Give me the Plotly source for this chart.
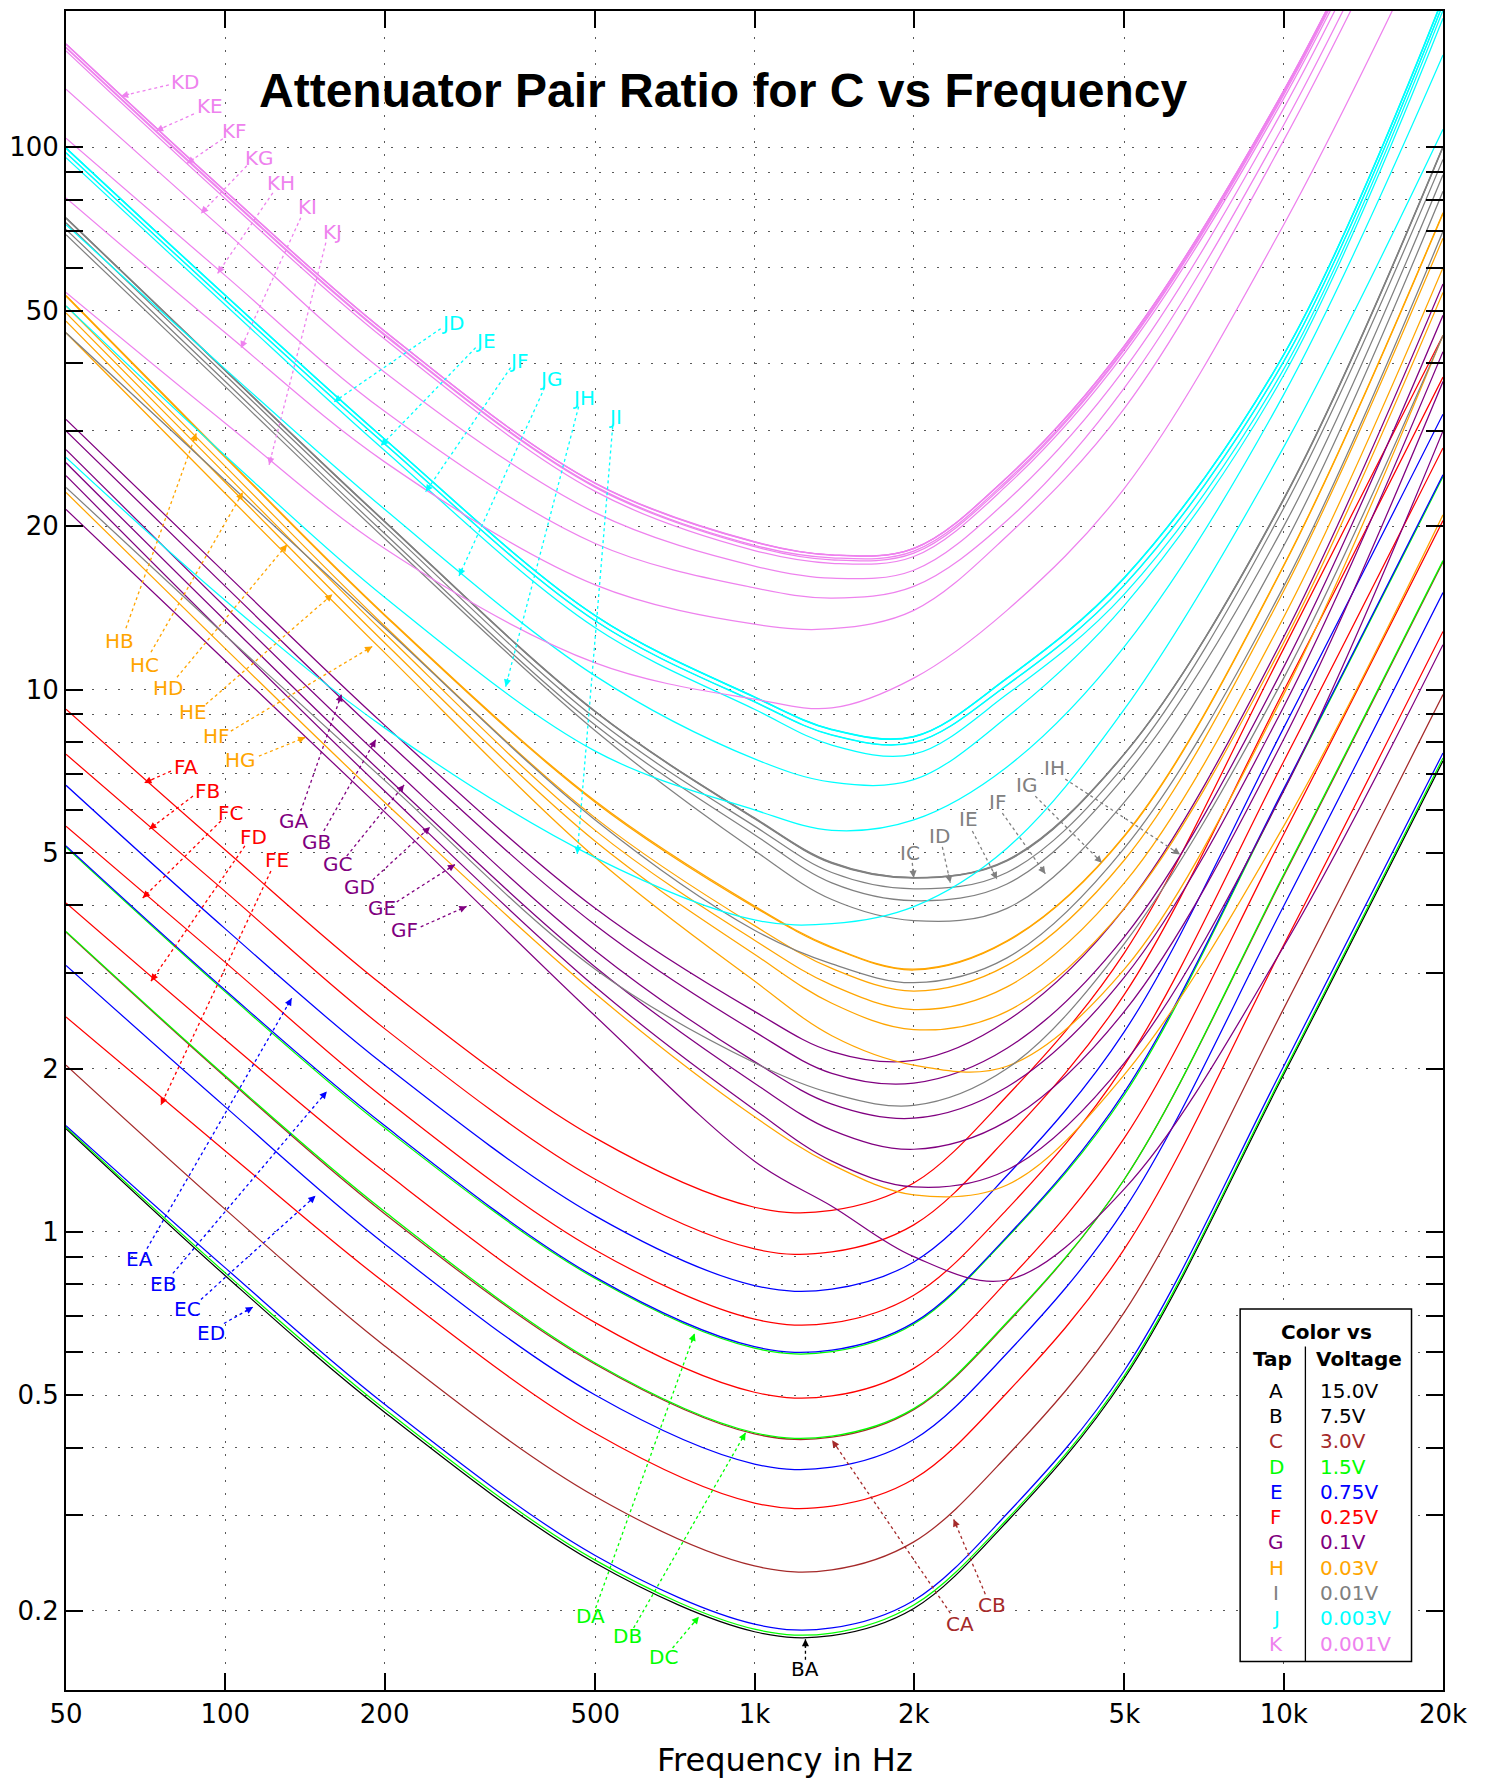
import math
import plotly.graph_objects as go

# Frequencies at which every pair ratio is tabulated (Hz)
freq_hz = [50, 100, 200, 500, 1000, 1400, 2000, 3000, 5000, 10000, 20000]

# Attenuator taps
tap_names = ["A", "B", "C", "D", "E", "F", "G", "H", "I", "J", "K"]
tap_volts = ["15.0V", "7.5V", "3.0V", "1.5V", "0.75V", "0.25V", "0.1V",
             "0.03V", "0.01V", "0.003V", "0.001V"]
tap_colors = ["#000000", "#000000", "#a52a2a", "#00ff00", "#0000ff", "#ff0000",
              "#800080", "#ffa500", "#808080", "#00ffff", "#ee82ee"]

# Ratio for C, one list per tap pair (values at freq_hz)
ratio_BA = [1.55, 0.83, 0.465, 0.245, 0.183, 0.18, 0.202, 0.292, 0.537, 1.95, 7.39]
ratio_CA = [3.57, 1.93, 1.08, 0.57, 0.424, 0.418, 0.47, 0.678, 1.25, 4.53, 17.2]
ratio_CB = [2.03, 1.10, 0.616, 0.325, 0.242, 0.238, 0.268, 0.386, 0.711, 2.58, 9.79]
ratio_DA = [5.12, 2.77, 1.555, 0.82, 0.61, 0.601, 0.676, 0.975, 1.79, 6.52, 24.7]
ratio_DB = [3.58, 1.94, 1.09, 0.573, 0.426, 0.42, 0.472, 0.681, 1.25, 4.56, 17.3]
ratio_DC = [1.56, 0.84, 0.471, 0.248, 0.185, 0.182, 0.205, 0.295, 0.543, 1.97, 7.48]
ratio_EA = [6.66, 3.62, 2.03, 1.07, 0.796, 0.784, 0.88, 1.27, 2.34, 8.5, 32.2]
ratio_EB = [5.15, 2.79, 1.57, 0.825, 0.614, 0.605, 0.68, 0.98, 1.81, 6.56, 24.9]
ratio_EC = [3.10, 1.70, 0.95, 0.50, 0.373, 0.368, 0.414, 0.597, 1.10, 3.99, 15.1]
ratio_ED = [1.57, 0.858, 0.481, 0.253, 0.189, 0.186, 0.209, 0.302, 0.555, 2.02, 7.64]
ratio_FA = [9.2, 5.06, 2.83, 1.49, 1.11, 1.095, 1.23, 1.78, 3.27, 11.9, 45.0]
ratio_FB = [7.6, 4.24, 2.37, 1.25, 0.93, 0.918, 1.03, 1.49, 2.74, 9.95, 37.7]
ratio_FC = [5.6, 3.14, 1.76, 0.926, 0.69, 0.679, 0.764, 1.10, 2.03, 7.37, 27.9]
ratio_FD = [4.04, 2.26, 1.29, 0.68, 0.506, 0.498, 0.56, 0.81, 1.49, 5.41, 20.5]
ratio_FE = [2.49, 1.41, 0.806, 0.425, 0.316, 0.312, 0.35, 0.505, 0.93, 3.38, 12.8]
ratio_GA = [31.5, 16.4, 8.6, 3.95, 2.55, 2.15, 2.07, 2.45, 3.95, 12.5, 56]
ratio_GB = [30.0, 15.5, 8.1, 3.68, 2.34, 1.96, 1.88, 2.18, 3.5, 11.0, 49]
ratio_GC = [27.7, 14.2, 7.4, 3.3, 2.06, 1.72, 1.62, 1.85, 2.95, 9.3, 42]
ratio_GD = [26.2, 13.4, 6.95, 3.08, 1.88, 1.54, 1.42, 1.6, 2.55, 8.1, 37]
ratio_GE = [24.8, 12.6, 6.5, 2.83, 1.68, 1.35, 1.21, 1.3, 2.05, 6.5, 30]
ratio_GF = [21.5, 11.3, 5.95, 2.5, 1.35, 1.115, 0.9, 0.815, 1.2, 3.36, 12.1]
ratio_HA = [53.3, 26.9, 13.75, 6.23, 3.99, 3.35, 3.05, 3.44, 5.38, 16.95, 75.8]
ratio_HB = [53.2, 26.8, 13.7, 6.2, 3.97, 3.34, 3.04, 3.43, 5.36, 16.9, 75.5]
ratio_HC = [51.0, 25.8, 13.1, 5.8, 3.67, 3.06, 2.78, 3.1, 4.85, 15.2, 68]
ratio_HD = [49.5, 25.0, 12.7, 5.5, 3.45, 2.85, 2.57, 2.83, 4.4, 13.6, 60]
ratio_HE = [47.8, 24.1, 12.2, 5.25, 3.25, 2.64, 2.36, 2.55, 3.95, 12.2, 54]
ratio_HF = [45.5, 23.0, 11.7, 4.9, 2.9, 2.3, 2.03, 2.02, 3.05, 9.8, 45]
ratio_HG = [23.1, 11.9, 6.2, 2.75, 1.63, 1.33, 1.17, 1.22, 1.95, 5.6, 21]
ratio_IA = [74.2, 38.8, 20.45, 9.12, 5.8, 4.8, 4.5, 4.85, 7.62, 22.5, 100.5]
ratio_IB = [74.1, 38.75, 20.42, 9.11, 5.79, 4.79, 4.5, 4.84, 7.61, 22.45, 100.2]
ratio_IC = [74.0, 38.7, 20.4, 9.1, 5.78, 4.78, 4.49, 4.83, 7.6, 22.4, 100]
ratio_ID = [72.6, 38.0, 20.0, 8.85, 5.6, 4.6, 4.29, 4.6, 7.25, 21.6, 95]
ratio_IE = [70.6, 37.0, 19.4, 8.6, 5.4, 4.4, 4.08, 4.38, 6.9, 20.0, 89]
ratio_IF = [69.0, 36.2, 19.0, 8.4, 5.05, 4.1, 3.75, 3.95, 6.2, 18.4, 83]
ratio_IG = [45.5, 24.3, 13.0, 5.75, 3.6, 3.12, 2.88, 3.2, 5.1, 15.5, 70]
ratio_IH = [23.6, 12.6, 6.8, 3.05, 2.05, 1.8, 1.71, 2.0, 3.4, 10.5, 45]
ratio_JA = [99.8, 53.4, 29.0, 13.7, 9.7, 8.45, 8.2, 10.5, 16.1, 41.5, 189]
ratio_JB = [99.7, 53.35, 28.97, 13.69, 9.69, 8.44, 8.19, 10.49, 16.08, 41.45, 188.5]
ratio_JC = [99.6, 53.3, 28.95, 13.68, 9.68, 8.43, 8.18, 10.48, 16.06, 41.4, 188]
ratio_JD = [97.8, 52.3, 28.4, 13.4, 9.5, 8.25, 7.99, 10.2, 15.6, 40.3, 184]
ratio_JE = [97.7, 52.25, 28.37, 13.39, 9.49, 8.24, 7.98, 10.19, 15.58, 40.25, 183.5]
ratio_JF = [95.7, 51.2, 27.6, 13.0, 9.2, 7.9, 7.6, 9.8, 15.0, 39.0, 179]
ratio_JG = [72.0, 39.0, 21.5, 10.6, 7.45, 6.75, 6.82, 8.9, 14.3, 38.0, 173]
ratio_JH = [51.0, 27.0, 14.8, 7.7, 6.0, 5.5, 5.75, 7.2, 12.0, 35.0, 148]
ratio_JI = [26.8, 14.6, 8.5, 4.9, 3.76, 3.7, 3.98, 5.1, 9.2, 28.0, 108]
ratio_KA = [155.2, 83.1, 45.85, 24.05, 18.75, 17.72, 18.22, 24.62, 43.1, 127.3, 496]
ratio_KB = [155.1, 83.05, 45.82, 24.02, 18.72, 17.71, 18.21, 24.61, 43.05, 127.2, 495]
ratio_KC = [155.0, 83.0, 45.8, 24.0, 18.7, 17.7, 18.2, 24.6, 43.0, 127, 494]
ratio_KD = [153.0, 82.0, 45.2, 23.7, 18.45, 17.5, 18.0, 24.3, 42.6, 126, 490]
ratio_KE = [152.6, 81.6, 45.0, 23.6, 18.35, 17.35, 17.85, 24.1, 42.3, 125, 486]
ratio_KF = [150.6, 80.4, 44.3, 23.2, 18.05, 17.1, 17.6, 23.8, 41.7, 123, 478]
ratio_KG = [128, 70.0, 38.5, 21.2, 16.9, 16.05, 16.6, 22.3, 39.0, 118, 462]
ratio_KH = [104, 58.0, 32.6, 18.6, 15.4, 14.75, 15.5, 20.5, 36.0, 110, 430]
ratio_KI = [80.7, 45.5, 26.3, 15.6, 13.2, 12.95, 14.0, 19.2, 33.0, 103, 400]
ratio_KJ = [54.0, 31.0, 18.2, 11.2, 9.6, 9.25, 10.5, 14.0, 23.5, 72.0, 280]

pairs = [
    ("BA", ratio_BA),
    ("CA", ratio_CA), ("CB", ratio_CB),
    ("DA", ratio_DA), ("DB", ratio_DB), ("DC", ratio_DC),
    ("EA", ratio_EA), ("EB", ratio_EB), ("EC", ratio_EC), ("ED", ratio_ED),
    ("FA", ratio_FA), ("FB", ratio_FB), ("FC", ratio_FC), ("FD", ratio_FD), ("FE", ratio_FE),
    ("GA", ratio_GA), ("GB", ratio_GB), ("GC", ratio_GC), ("GD", ratio_GD), ("GE", ratio_GE),
    ("GF", ratio_GF),
    ("HA", ratio_HA), ("HB", ratio_HB), ("HC", ratio_HC), ("HD", ratio_HD), ("HE", ratio_HE),
    ("HF", ratio_HF), ("HG", ratio_HG),
    ("IA", ratio_IA), ("IB", ratio_IB), ("IC", ratio_IC), ("ID", ratio_ID), ("IE", ratio_IE),
    ("IF", ratio_IF), ("IG", ratio_IG), ("IH", ratio_IH),
    ("JA", ratio_JA), ("JB", ratio_JB), ("JC", ratio_JC), ("JD", ratio_JD), ("JE", ratio_JE),
    ("JF", ratio_JF), ("JG", ratio_JG), ("JH", ratio_JH), ("JI", ratio_JI),
    ("KA", ratio_KA), ("KB", ratio_KB), ("KC", ratio_KC), ("KD", ratio_KD), ("KE", ratio_KE),
    ("KF", ratio_KF), ("KG", ratio_KG), ("KH", ratio_KH), ("KI", ratio_KI), ("KJ", ratio_KJ),
]

# Curve callouts in plot-area fractions: label centre, start of dotted leader, arrow tip
callouts = [
    ("KD", 0.0871, 0.9578, 0.0747, 0.9560, 0.0399, 0.9493),
    ("KE", 0.1047, 0.9435, 0.0929, 0.9387, 0.0653, 0.9286),
    ("KF", 0.1226, 0.9284, 0.1139, 0.9239, 0.0878, 0.9092),
    ("KG", 0.1403, 0.9125, 0.1313, 0.9078, 0.0980, 0.8794),
    ("KH", 0.1560, 0.8973, 0.1502, 0.8917, 0.1101, 0.8437),
    ("KI", 0.1754, 0.8830, 0.1705, 0.8769, 0.1270, 0.7991),
    ("KJ", 0.1935, 0.8682, 0.1887, 0.8620, 0.1475, 0.7297),
    ("JD", 0.2808, 0.8141, 0.2721, 0.8108, 0.1947, 0.7672),
    ("JE", 0.3048, 0.8033, 0.2975, 0.7995, 0.2286, 0.7410),
    ("JF", 0.3287, 0.7918, 0.3229, 0.7876, 0.2612, 0.7136),
    ("JG", 0.3519, 0.7810, 0.3476, 0.7757, 0.2854, 0.6635),
    ("JH", 0.3758, 0.7695, 0.3723, 0.7644, 0.3193, 0.5976),
    ("JI", 0.3988, 0.7580, 0.3970, 0.7525, 0.3713, 0.4980),
    ("IC", 0.6132, 0.4987, 0.6146, 0.4926, 0.6156, 0.4838),
    ("ID", 0.6345, 0.5086, 0.6364, 0.5021, 0.6422, 0.4808),
    ("IE", 0.6555, 0.5186, 0.6582, 0.5116, 0.6761, 0.4829),
    ("IF", 0.6766, 0.5290, 0.6800, 0.5223, 0.7112, 0.4862),
    ("IG", 0.6972, 0.5390, 0.7039, 0.5324, 0.7523, 0.4927),
    ("IH", 0.7177, 0.5489, 0.7257, 0.5425, 0.8091, 0.4976),
    ("HB", 0.0386, 0.6249, 0.0435, 0.6324, 0.0946, 0.7485),
    ("HC", 0.0567, 0.6106, 0.0617, 0.6181, 0.1284, 0.7134),
    ("HD", 0.0740, 0.5965, 0.0806, 0.6032, 0.1606, 0.6823),
    ("HE", 0.0922, 0.5823, 0.1016, 0.5871, 0.1935, 0.6526),
    ("HF", 0.1095, 0.5681, 0.1197, 0.5711, 0.2224, 0.6215),
    ("HG", 0.1268, 0.5539, 0.1401, 0.5562, 0.1738, 0.5674),
    ("GA", 0.1655, 0.5174, 0.1705, 0.5235, 0.2001, 0.5931),
    ("GB", 0.1820, 0.5052, 0.1872, 0.5116, 0.2249, 0.5660),
    ("GC", 0.1969, 0.4917, 0.2039, 0.4967, 0.2455, 0.5390),
    ("GD", 0.2134, 0.4782, 0.2228, 0.4825, 0.2644, 0.5140),
    ("GE", 0.2298, 0.4660, 0.2402, 0.4694, 0.2826, 0.4917),
    ("GF", 0.2455, 0.4525, 0.2576, 0.4545, 0.2909, 0.4667),
    ("FA", 0.0871, 0.5497, 0.0762, 0.5473, 0.0568, 0.5402),
    ("FB", 0.1028, 0.5354, 0.0922, 0.5324, 0.0604, 0.5126),
    ("FC", 0.1197, 0.5221, 0.1125, 0.5176, 0.0557, 0.4717),
    ("FD", 0.1362, 0.5083, 0.1299, 0.5027, 0.0617, 0.4222),
    ("FE", 0.1531, 0.4945, 0.1488, 0.4878, 0.0689, 0.3484),
    ("EA", 0.0534, 0.2565, 0.0588, 0.2629, 0.1639, 0.4120),
    ("EB", 0.0708, 0.2416, 0.0776, 0.2481, 0.1894, 0.3565),
    ("EC", 0.0880, 0.2268, 0.0980, 0.2326, 0.1812, 0.2943),
    ("ED", 0.1054, 0.2126, 0.1147, 0.2183, 0.1358, 0.2281),
    ("DA", 0.3810, 0.0443, 0.3846, 0.0488, 0.4565, 0.2123),
    ("DB", 0.4076, 0.0320, 0.4122, 0.0369, 0.4935, 0.1532),
    ("DC", 0.4342, 0.0197, 0.4405, 0.0250, 0.4596, 0.0437),
    ("CA", 0.6490, 0.0396, 0.6422, 0.0458, 0.5564, 0.1487),
    ("CB", 0.6725, 0.0509, 0.6676, 0.0571, 0.6446, 0.1017),
    ("BA", 0.5370, 0.0123, 0.5370, 0.0180, 0.5370, 0.0303),
]

x_ticks = [50, 100, 200, 500, 1000, 2000, 5000, 10000, 20000]
x_tick_text = ["50", "100", "200", "500", "1k", "2k", "5k", "10k", "20k"]
y_ticks = [m * d for d in (0.1, 1, 10, 100) for m in range(1, 10) if 0.15 < m * d <= 100]
y_labelled = {0.2: "0.2", 0.5: "0.5", 1: "1", 2: "2", 5: "5", 10: "10", 20: "20", 50: "50", 100: "100"}

W, H = 1494, 1781
M_L, M_R, M_T, M_B = 65, 51, 9, 91
PW, PH = W - M_L - M_R, H - M_T - M_B


def tap_color(letter):
    return tap_colors[tap_names.index(letter)]


fig = go.Figure()
for name, vals in pairs:
    fig.add_trace(go.Scatter(
        x=freq_hz, y=vals, mode="lines", name=name, showlegend=False,
        line=dict(color=tap_color(name[0]), width=1.25, shape="spline", smoothing=1.0),
    ))

annotations = []
shapes = []
label_font = "DejaVu Sans, Verdana, sans-serif"

for text, tx, ty, sx, sy, hx, hy in callouts:
    col = tap_color(text[0])
    annotations.append(dict(x=tx, y=ty, xref="paper", yref="paper", text=text,
                            showarrow=False, xanchor="center", yanchor="middle",
                            font=dict(family=label_font, size=20, color=col)))
    shapes.append(dict(type="line", xref="paper", yref="paper", x0=sx, y0=sy, x1=hx, y1=hy,
                       line=dict(color=col, width=1.3, dash="dot")))
    dx = (sx - hx) * PW
    dy = (hy - sy) * PH
    n = math.hypot(dx, dy) or 1.0
    annotations.append(dict(x=hx, y=hy, xref="paper", yref="paper", text="",
                            showarrow=True, arrowhead=2, arrowsize=1.1, arrowwidth=1.3,
                            arrowcolor=col, ax=dx / n * 10, ay=dy / n * 10, standoff=0))

# Title
annotations.append(dict(x=0.477, y=0.9525, xref="paper", yref="paper",
                        text="<b>Attenuator Pair Ratio for C vs Frequency</b>",
                        showarrow=False, xanchor="center", yanchor="middle",
                        font=dict(family="Liberation Sans, Arial, sans-serif", size=48,
                                  color="black")))

# Frequency axis caption
annotations.append(dict(x=0.5218, y=-0.0416, xref="paper", yref="paper",
                        text="Frequency in Hz", showarrow=False,
                        xanchor="center", yanchor="middle",
                        font=dict(family=label_font, size=32, color="black")))


def px(x):
    return (x - M_L) / PW


def py(y):
    return (M_T + PH - y) / PH


# Tap colour key
shapes.append(dict(type="rect", xref="paper", yref="paper", x0=px(1240), x1=px(1411.5),
                   y0=py(1661.5), y1=py(1308.5), line=dict(color="black", width=1.5),
                   fillcolor="white", layer="above"))
shapes.append(dict(type="line", xref="paper", yref="paper", x0=px(1305.3), x1=px(1305.3),
                   y0=py(1661.5), y1=py(1346), line=dict(color="black", width=1.3)))
key_font = "DejaVu Sans, Verdana, sans-serif"
annotations.append(dict(x=px(1326), y=py(1332), xref="paper", yref="paper",
                        text="<b>Color vs</b>", showarrow=False, xanchor="center",
                        yanchor="middle", font=dict(family=key_font, size=20, color="black")))
annotations.append(dict(x=px(1272.5), y=py(1358.5), xref="paper", yref="paper",
                        text="<b>Tap</b>", showarrow=False, xanchor="center",
                        yanchor="middle", font=dict(family=key_font, size=20, color="black")))
annotations.append(dict(x=px(1358.5), y=py(1358.5), xref="paper", yref="paper",
                        text="<b>Voltage</b>", showarrow=False, xanchor="center",
                        yanchor="middle", font=dict(family=key_font, size=20, color="black")))
for i, (tap, volt, col) in enumerate(zip(tap_names, tap_volts, tap_colors)):
    yy = py(1390.5 + 25.3 * i)
    annotations.append(dict(x=px(1276), y=yy, xref="paper", yref="paper", text=tap,
                            showarrow=False, xanchor="center", yanchor="middle",
                            font=dict(family=key_font, size=20, color=col)))
    annotations.append(dict(x=px(1318), y=yy, xref="paper", yref="paper", text=volt,
                            showarrow=False, xanchor="left", yanchor="middle",
                            font=dict(family=key_font, size=20, color=col)))

grid_style = dict(showgrid=True, gridcolor="rgba(60,60,60,0.85)", gridwidth=1.3,
                  griddash="2px,11px")
axis_style = dict(showline=True, linecolor="black", linewidth=2, mirror="ticks",
                  ticks="inside", ticklen=17, tickwidth=1.5, tickcolor="black",
                  zeroline=False,
                  tickfont=dict(family=label_font, size=26, color="black"))

fig.update_layout(
    width=W, height=H,
    margin=dict(l=M_L, r=M_R, t=M_T, b=M_B),
    paper_bgcolor="white", plot_bgcolor="white",
    showlegend=False,
    annotations=annotations,
    shapes=shapes,
    xaxis=dict(type="log", range=[math.log10(50), math.log10(20000)],
               tickvals=x_ticks, ticktext=x_tick_text,
               **grid_style, **axis_style),
    yaxis=dict(type="log", range=[-0.845, 2.2515],
               tickvals=y_ticks, ticktext=[y_labelled.get(round(v, 3), "") for v in y_ticks],
               **grid_style, **axis_style),
)

fig.write_html("out.html")
